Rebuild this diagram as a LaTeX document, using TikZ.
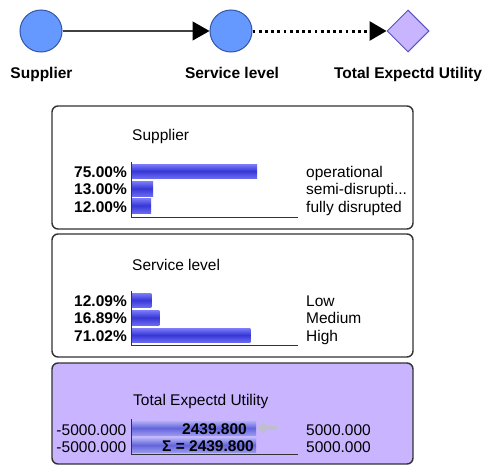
\documentclass[tikz,border=0pt]{standalone}
\usepackage{fontspec}
\setmainfont{Liberation Sans}
\usetikzlibrary{shapes.geometric,arrows.meta}
\definecolor{nodeblue}{RGB}{102,153,255}
\definecolor{nodeedge}{RGB}{51,85,170}
\definecolor{util}{RGB}{200,180,255}
\definecolor{utiledge}{RGB}{85,85,187}
\definecolor{panelpurple}{RGB}{200,180,255}
\definecolor{framecol}{RGB}{50,50,50}
\definecolor{bartop}{RGB}{125,125,250}
\definecolor{barmid}{RGB}{55,55,215}
\definecolor{barbot}{RGB}{105,105,240}
\definecolor{ubartop}{RGB}{175,175,245}
\definecolor{ubarmid}{RGB}{100,100,220}
\definecolor{ubarbot}{RGB}{150,150,238}
\definecolor{grayarrow}{RGB}{190,190,205}
\tikzset{
  chance/.style={circle,draw=nodeedge,fill=nodeblue,line width=1pt,minimum size=42pt,inner sep=0pt},
  utilnode/.style={diamond,draw=utiledge,fill=util,line width=1pt,minimum width=42pt,minimum height=42pt,inner sep=0pt},
  toplabel/.style={font=\fontsize{15.5}{18}\selectfont\bfseries,anchor=base,inner sep=0pt},
  txt/.style={font=\fontsize{15.5}{18}\selectfont,inner sep=0pt},
  btxt/.style={font=\fontsize{15.5}{18}\selectfont\bfseries,inner sep=0pt},
  panel/.style={draw=framecol,line width=1.4pt,rounded corners=6pt},
  bar/.style={top color=bartop,bottom color=barbot,middle color=barmid},
  ubar/.style={top color=ubartop,bottom color=ubarbot,middle color=ubarmid},
  axis/.style={draw=black!80,line width=1pt},
  solidedge/.style={draw=black!75,line width=1.3pt,-{Triangle[length=17pt,width=19pt,color=black]}},
  dotedge/.style={draw=black,line width=3pt,dash pattern=on 2.8pt off 3.4pt,-{Triangle[length=17pt,width=19pt,color=black]}},
}
\begin{document}
\begin{tikzpicture}[x=1pt,y=-1pt]
\useasboundingbox[fill=white] (0,0) rectangle (483,466);
% network
\node[chance] (sup) at (41,31) {};
\node[chance] (ser) at (231,31) {};
\node[utilnode] (teu) at (408,31) {};
\draw[solidedge] (sup) -- (ser);
\draw[dotedge] (ser) -- (teu);
\node[toplabel] (lsup) at (41.5,78) {Supplier};
\node[toplabel] (lser) at (232,78) {Service level};
\node[toplabel] (lteu) at (408,78) {Total Expectd Utility};
% panel 1
\draw[panel] (52,106) rectangle (413,229);
\node[txt,anchor=base west] (t1) at (132,140) {Supplier};
\path[bar] (132,164) rectangle (257,178);
\path[bar] (132,181) rectangle (153,196);
\path[bar] (132,198) rectangle (151,213);
\draw[axis] (131,162) -- (131,217) -- (298,217);
\node[btxt,anchor=base east] (p11) at (127,177) {75.00\%};
\node[btxt,anchor=base east] (p12) at (127,194.5) {13.00\%};
\node[btxt,anchor=base east] (p13) at (127,212) {12.00\%};
\node[txt,anchor=base west] (s11) at (306,177) {operational};
\node[txt,anchor=base west] (s12) at (306,194.5) {semi-disrupti...};
\node[txt,anchor=base west] (s13) at (306,212) {fully disrupted};
% panel 2
\draw[panel] (52,234) rectangle (413,357);
\node[txt,anchor=base west] (t2) at (132,270) {Service level};
\path[bar] (132,293) rectangle (151.3,307);
\path[bar] (132,310) rectangle (159.4,325);
\path[bar] (132,328) rectangle (250.3,342);
\draw[axis] (131,291) -- (131,345) -- (298,345);
\node[btxt,anchor=base east] (p21) at (127,306) {12.09\%};
\node[btxt,anchor=base east] (p22) at (127,323) {16.89\%};
\node[btxt,anchor=base east] (p23) at (127,341) {71.02\%};
\node[txt,anchor=base west] (s21) at (306,306) {Low};
\node[txt,anchor=base west] (s22) at (306,323) {Medium};
\node[txt,anchor=base west] (s23) at (306,341) {High};
% panel 3
\draw[panel,fill=panelpurple] (52,363) rectangle (413,464);
\node[txt,anchor=base west] (t3) at (133,405) {Total Expectd Utility};
\path[ubar] (132,421) rectangle (256,435);
\path[ubar] (132,438) rectangle (256,452);
\draw[axis] (131,419) -- (131,454) -- (298,454);
\node[txt,anchor=base east] (m1) at (126.5,435) {-5000.000};
\node[txt,anchor=base east] (m2) at (126.5,452) {-5000.000};
\node[txt,anchor=base west] (x1) at (306,435) {5000.000};
\node[txt,anchor=base west] (x2) at (306,452) {5000.000};
\node[btxt,anchor=base east] (v1) at (247,434) {2439.800};
\node[btxt,anchor=base east] (v2) at (254,451) {Σ = 2439.800};
\coordinate (ga) at (277,428);
\coordinate (gb) at (257,428);
\draw[draw=grayarrow,line width=4pt,-{Triangle[length=8pt,width=11pt]}] (ga) -- (gb);
\end{tikzpicture}
\end{document}
